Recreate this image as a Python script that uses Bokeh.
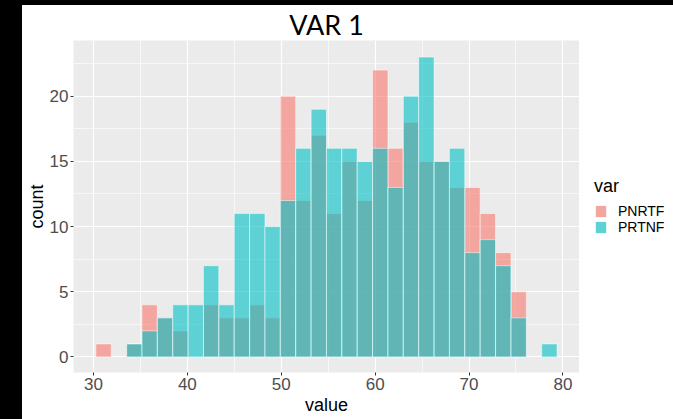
import numpy as np
from bokeh.plotting import figure
from bokeh.models import (Range1d, FixedTicker, Legend, LegendItem, Div, ColumnDataSource,
                          CDSView, BooleanFilter)
from bokeh.layouts import column, row
from bokeh.embed import file_html
from bokeh.resources import INLINE

# ---- data (30 bins) ----
bin_centers = [31.07, 32.71, 34.35, 35.98, 37.62, 39.26, 40.90, 42.53, 44.17, 45.81,
               47.45, 49.08, 50.72, 52.36, 54.00, 55.63, 57.27, 58.91, 60.55, 62.18,
               63.82, 65.46, 67.10, 68.73, 70.37, 72.01, 73.65, 75.29, 76.92, 78.56]
bin_width = 1.6376
pnrtf_counts = [1, 0, 1, 4, 3, 2, 0, 4, 3, 3, 4, 3, 20, 12, 17, 11, 15, 12, 22, 16,
                18, 15, 15, 13, 13, 11, 8, 5, 0, 0]
prtnf_counts = [0, 0, 1, 2, 3, 4, 4, 7, 4, 11, 11, 10, 12, 16, 19, 16, 16, 15, 16, 13,
                20, 23, 15, 16, 8, 9, 7, 3, 0, 1]
series_names = ["PNRTF", "PRTNF"]
x_ticks = [30, 40, 50, 60, 70, 80]
y_ticks = [0, 5, 10, 15, 20]

centers = np.array(bin_centers)
left_edges = centers - bin_width / 2
right_edges = centers + bin_width / 2

# ---------------- main histogram panel ----------------
p = figure(width=557, height=414, output_backend="svg", toolbar_location=None,
           x_range=Range1d(27.87, 81.77), y_range=Range1d(-1.19, 24.27),
           min_border_left=51, min_border_right=0, min_border_top=34, min_border_bottom=47)

p.background_fill_color = "#EBEBEB"
p.border_fill_color = "white"
p.outline_line_color = None

p.title.text = "VAR 1"
p.title.align = "center"
p.title.text_font = "Lato"
p.title.text_font_size = "27px"
p.title.text_font_style = "normal"
p.title.text_color = "black"
p.title.standoff = 0
p.title.offset = 4

p.xgrid.ticker = FixedTicker(ticks=x_ticks, minor_ticks=[35, 45, 55, 65, 75])
p.ygrid.ticker = FixedTicker(ticks=y_ticks, minor_ticks=[2.5, 7.5, 12.5, 17.5, 22.5])
for g in (p.xgrid, p.ygrid):
    g.grid_line_color = "white"
    g.grid_line_width = 1.2
    g.minor_grid_line_color = "white"
    g.minor_grid_line_width = 0.6

p.xaxis.ticker = FixedTicker(ticks=x_ticks)
p.yaxis.ticker = FixedTicker(ticks=y_ticks)
p.xaxis.axis_label = "value"
p.yaxis.axis_label = "count"
for ax in (p.xaxis, p.yaxis):
    ax.axis_line_color = None
    ax.major_tick_line_color = "#333333"
    ax.major_tick_out = 3
    ax.major_tick_in = 0
    ax.minor_tick_line_color = None
    ax.major_label_text_font = "Liberation Sans"
    ax.major_label_text_font_size = "17px"
    ax.major_label_text_color = "#4D4D4D"
    ax.axis_label_text_font = "Liberation Sans"
    ax.axis_label_text_font_size = "18px"
    ax.axis_label_text_font_style = "normal"
    ax.axis_label_text_color = "black"
p.xaxis.major_label_standoff = 2
p.xaxis.axis_label_standoff = 2
p.yaxis.major_label_standoff = 2
p.yaxis.axis_label_standoff = 0

src_a = ColumnDataSource(dict(left=left_edges, right=right_edges, top=pnrtf_counts,
                              bottom=[0] * len(pnrtf_counts)))
src_b = ColumnDataSource(dict(left=left_edges, right=right_edges, top=prtnf_counts,
                              bottom=[0] * len(prtnf_counts)))
mask_a = [c > 0 for c in pnrtf_counts]
mask_b = [c > 0 for c in prtnf_counts]
p.quad(left="left", right="right", top="top", bottom="bottom", source=src_a,
       view=CDSView(filter=BooleanFilter(mask_a)),
       fill_color="#F8766D", fill_alpha=0.6, line_color="white", line_alpha=0.5, line_width=1)
p.quad(left="left", right="right", top="top", bottom="bottom", source=src_b,
       view=CDSView(filter=BooleanFilter(mask_b)),
       fill_color="#00BFC4", fill_alpha=0.6, line_color="white", line_alpha=0.5, line_width=1)

# ---------------- legend panel (separate small figure) ----------------
lg = figure(width=94, height=414, output_backend="svg", toolbar_location=None,
            x_axis_location=None, y_axis_location=None,
            x_range=Range1d(0, 1), y_range=Range1d(0, 1),
            min_border_left=0, min_border_right=0, min_border_top=0, min_border_bottom=0)
lg.outline_line_color = None
lg.background_fill_color = "white"
lg.border_fill_color = "white"
lg.xgrid.visible = False
lg.ygrid.visible = False

nan_src = dict(left=[np.nan], right=[np.nan], top=[np.nan], bottom=[np.nan])
leg_a = lg.quad(left="left", right="right", top="top", bottom="bottom",
                source=ColumnDataSource(dict(nan_src)), fill_color="#F3A59F", line_color=None)
leg_b = lg.quad(left="left", right="right", top="top", bottom="bottom",
                source=ColumnDataSource(dict(nan_src)), fill_color="#5ED1D4", line_color=None)

legend = Legend(items=[LegendItem(label=series_names[0], renderers=[leg_a]),
                       LegendItem(label=series_names[1], renderers=[leg_b])],
                location=(15, 137), title="var", orientation="vertical")
legend.title_text_font = "Liberation Sans"
legend.title_text_font_size = "18px"
legend.title_text_font_style = "normal"
legend.title_text_color = "black"
legend.title_standoff = 6
legend.label_text_font = "Liberation Sans"
legend.label_text_font_size = "14px"
legend.label_text_color = "black"
legend.label_standoff = 11
legend.glyph_width = 13
legend.glyph_height = 14
legend.label_height = 12
legend.spacing = 0
legend.padding = 0
legend.margin = 0
legend.border_line_color = None
legend.background_fill_alpha = 0
lg.add_layout(legend, "center")

top_bar = Div(width=673, height=5, styles={"background-color": "black"}, margin=0)
left_bar = Div(width=22, height=414, styles={"background-color": "black"}, margin=0)
layout = column(top_bar, row(left_bar, p, lg, spacing=0), spacing=0)

open("out.html", "w").write(file_html(layout, INLINE))
